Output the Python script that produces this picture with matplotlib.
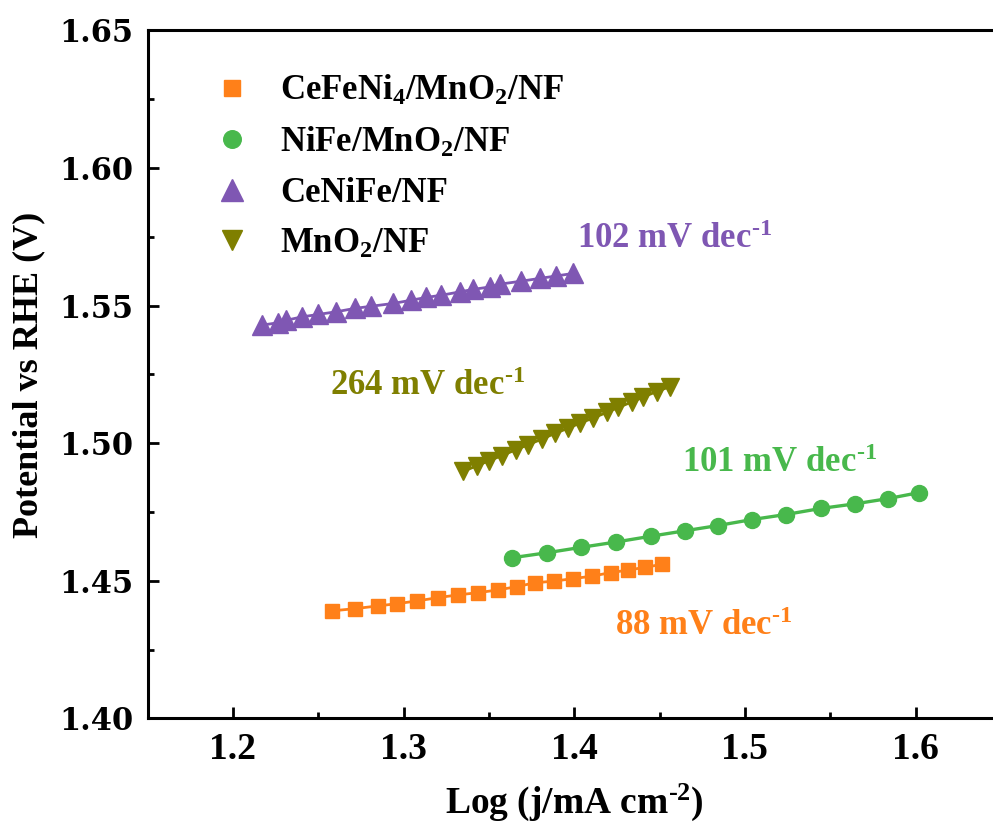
import matplotlib
matplotlib.use("Agg")
import matplotlib.pyplot as plt
from matplotlib.ticker import MultipleLocator

plt.rcParams['font.family'] = 'Liberation Serif'
plt.rcParams['font.weight'] = 'bold'
plt.rcParams['axes.labelweight'] = 'bold'
plt.rcParams['mathtext.fontset'] = 'custom'
plt.rcParams['mathtext.rm'] = 'Liberation Serif:bold'
plt.rcParams['mathtext.it'] = 'Liberation Serif:bold'
plt.rcParams['mathtext.bf'] = 'Liberation Serif:bold'

# Tafel data: log(j) and potential
x_cefeni = [1.2580, 1.2714, 1.2849, 1.2960, 1.3077, 1.3200, 1.3317, 1.3434, 1.3552,
            1.3663, 1.3768, 1.3879, 1.3991, 1.4102, 1.4213, 1.4313, 1.4412, 1.4512]
y_cefeni = [1.4391, 1.4399, 1.4409, 1.4417, 1.4427, 1.4439, 1.4449, 1.4457, 1.4467,
            1.4479, 1.4493, 1.4499, 1.4508, 1.4517, 1.4530, 1.4539, 1.4549, 1.4560]

x_nife = [1.3635, 1.3838, 1.4042, 1.4242, 1.4447, 1.4648, 1.4841, 1.5043, 1.5238,
          1.5443, 1.5646, 1.5839, 1.6022]
y_nife = [1.4584, 1.4602, 1.4622, 1.4641, 1.4662, 1.4682, 1.4701, 1.4723, 1.4741,
          1.4763, 1.4780, 1.4799, 1.4821]

x_ceni = [1.2168, 1.2265, 1.2314, 1.2402, 1.2499, 1.2607, 1.2714, 1.2812, 1.2939, 1.3046,
          1.3134, 1.3222, 1.3329, 1.3407, 1.3505, 1.3563, 1.3690, 1.3797, 1.3895, 1.3992]
y_ceni = [1.5429, 1.5438, 1.5447, 1.5459, 1.5468, 1.5478, 1.5490, 1.5498, 1.5508, 1.5520,
          1.5530, 1.5538, 1.5550, 1.5559, 1.5568, 1.5578, 1.5589, 1.5599, 1.5608, 1.5617]

x_mno2 = [1.3350, 1.3428, 1.3502, 1.3575, 1.3659, 1.3731, 1.3809, 1.3887, 1.3965,
          1.4033, 1.4111, 1.4190, 1.4258, 1.4336, 1.4404, 1.4483, 1.4561]
y_mno2 = [1.4898, 1.4918, 1.4937, 1.4955, 1.4977, 1.4995, 1.5015, 1.5036, 1.5055,
          1.5073, 1.5092, 1.5112, 1.5130, 1.5150, 1.5168, 1.5188, 1.5206]

labels = ['CeFeNi$_4$/MnO$_2$/NF', 'NiFe/MnO$_2$/NF', 'CeNiFe/NF', 'MnO$_2$/NF']

c_orange = '#FF8019'
c_green = '#48B84C'
c_purple = '#7F57B3'
c_olive = '#7F7F00'

fig = plt.figure(figsize=(9.93, 8.34), dpi=100)
ax = fig.add_axes([0.1486, 0.1385, 0.8594, 0.825])

ax.plot(x_cefeni, y_cefeni, '-s', color=c_orange, ms=10.5, lw=2, label=labels[0])
ax.plot(x_nife, y_nife, '-o', color=c_green, ms=11.5, lw=2.4, label=labels[1])
ax.plot(x_ceni, y_ceni, '-^', color=c_purple, ms=14, lw=2, label=labels[2])
ax.plot(x_mno2, y_mno2, '-v', color=c_olive, ms=13, lw=2, label=labels[3])

ax.set_xlim(1.15, 1.65)
ax.set_ylim(1.40, 1.65)
ax.xaxis.set_minor_locator(MultipleLocator(0.05))
ax.yaxis.set_minor_locator(MultipleLocator(0.025))
ax.set_xticks([1.2, 1.3, 1.4, 1.5, 1.6])
ax.set_xticklabels(['1.2', '1.3', '1.4', '1.5', '1.6'], fontsize=27, fontweight='bold')
ax.set_yticks([1.40, 1.45, 1.50, 1.55, 1.60, 1.65])
ax.set_yticklabels(['1.40', '1.45', '1.50', '1.55', '1.60', '1.65'],
                   family='DejaVu Serif', fontsize=22, fontweight='bold')

ax.tick_params(which='both', direction='in', width=2, top=False, right=False)
ax.tick_params(which='major', length=8, pad=10)
ax.tick_params(which='minor', length=4)
for s in ['left', 'bottom', 'top']:
    ax.spines[s].set_linewidth(2.2)
ax.spines['right'].set_visible(False)

ax.set_xlabel('Log (j/mA cm$^{\\text{-2}}$)', fontsize=27, labelpad=10)
ax.set_ylabel('Potential vs RHE (V)', fontsize=26, labelpad=10)

ax.text(1.4014, 1.5708, '102 mV dec$^{\\text{-1}}$', color=c_purple, fontsize=25)
ax.text(1.2568, 1.5176, '264 mV dec$^{\\text{-1}}$', color=c_olive, fontsize=25)
ax.text(1.4629, 1.4897, '101 mV dec$^{\\text{-1}}$', color=c_green, fontsize=25)
ax.text(1.4236, 1.4303, '88 mV dec$^{\\text{-1}}$', color=c_orange, fontsize=25)

leg = ax.legend(loc='upper left', bbox_to_anchor=(0.05, 0.982), frameon=False,
                fontsize=25, numpoints=1, handlelength=0.6, handletextpad=1.08,
                labelspacing=0.5, markerscale=1.1)
for h in leg.legend_handles:
    h.set_linestyle('none')

fig.savefig('out.png', dpi=100)
